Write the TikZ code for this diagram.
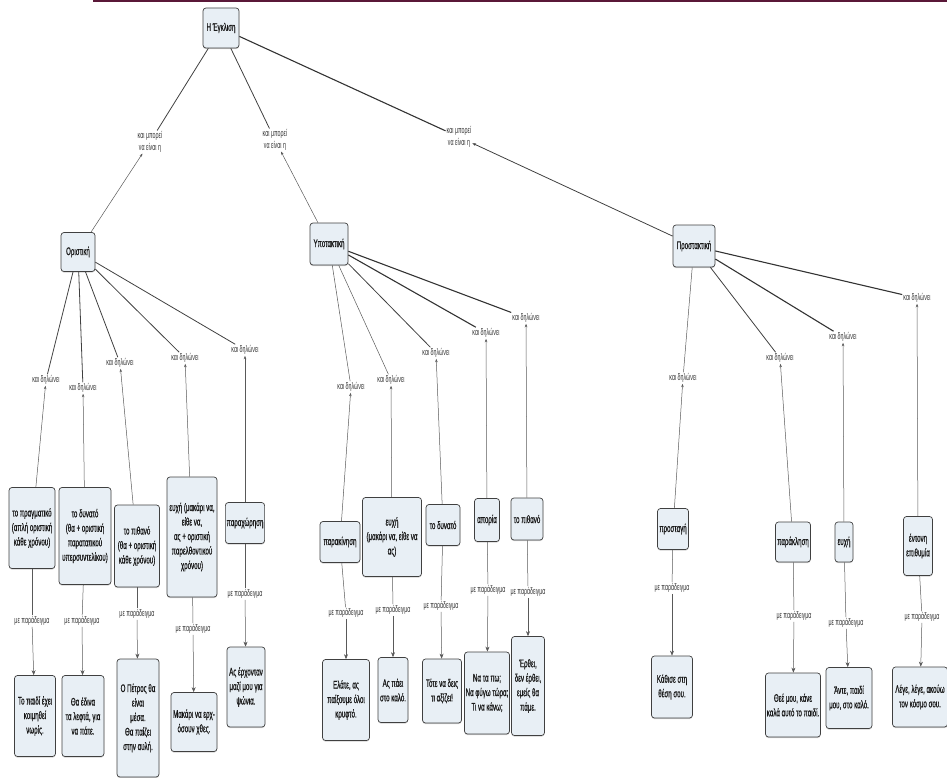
\documentclass[tikz,border=0pt]{standalone}
\usepackage{fontspec}
\usetikzlibrary{arrows.meta,shadows}
\newfontfamily\narrowfont{Liberation Sans}[FakeStretch=0.56]
\newfontfamily\narrowbold{Liberation Sans}[FakeStretch=0.56,FakeBold=0.6]
\definecolor{boxfill}{HTML}{E8EFF5}
\definecolor{barcol}{HTML}{5A1838}
\newcommand{\boxfont}{\narrowbold\fontsize{11}{14.5}\selectfont}
\newcommand{\labfont}{\narrowfont\fontsize{9.5}{11.5}\selectfont}
\tikzset{
  cbox/.style={draw=black!75, fill=boxfill, rounded corners=3pt, line width=0.7pt,
    align=center, font=\boxfont, text=black!90, inner xsep=1.2pt, inner ysep=2pt,
    drop shadow={opacity=0.35, shadow xshift=0pt, shadow yshift=-1.2pt}},
  lab/.style={font=\labfont, text=black!80, inner sep=1pt, align=center},
  heavy/.style={draw=black!80, line width=1.1pt},
  mid/.style={draw=black!75, line width=0.8pt},
  thinl/.style={draw=black!65, line width=0.5pt},
  uptip/.style={-{Stealth[length=3.5pt,width=2.6pt]}},
  downtip/.style={-{Stealth[length=5pt,width=4pt]}},
}
\begin{document}
\begin{tikzpicture}[x=1pt,y=-1pt]
\useasboundingbox (0,0) rectangle (947,778);
\fill[barcol] (93,0) rectangle (947,2.5);

% top
\node[cbox, minimum width=36, minimum height=40] (top) at (221,28) {Η Έγκλιση};

% level 1 labels
\node[lab] (l1) at (150,142) {και μπορεί\\να είναι η};
\node[lab] (l2) at (275,140) {και μπορεί\\να είναι η};
\node[lab] (l3) at (459,137) {και μπορεί\\να είναι η};

% moods
\node[cbox, minimum width=34, minimum height=39] (or) at (78,252) {Οριστική};
\node[cbox, minimum width=38, minimum height=42] (yp) at (329,244) {Υποτακτική};
\node[cbox, minimum width=42, minimum height=42] (pr) at (694,246) {Προστακτική};

\draw[mid] (top) -- (l1);
\draw[mid] (top) -- (l2);
\draw[heavy] (top) -- (l3);
\draw[thinl,uptip] (or) -- (l1);
\draw[thinl,uptip] (yp) -- (l2);
\draw[mid,uptip] (pr) -- (l3);

% ---------- Οριστική ----------
\node[lab] (ol1) at (46,380) {και δηλώνει};
\node[lab] (ol2) at (83,388) {και δηλώνει};
\node[lab] (ol3) at (120,363) {και δηλώνει};
\node[lab] (ol4) at (185,358) {και δηλώνει};
\node[lab] (ol5) at (245,350) {και δηλώνει};

\node[cbox, minimum width=46, minimum height=81] (ob1) at (32,528) {το πραγματικό\\(απλή οριστική\\κάθε χρόνου)};
\node[cbox, minimum width=52, minimum height=97] (ob2) at (85,536) {το δυνατό\\(θα + οριστική\\παρατατικού\\υπερσυντελίκου)};
\node[cbox, minimum width=45, minimum height=82] (ob3) at (137,546) {το πιθανό\\(θα + οριστική\\κάθε χρόνου)};
\node[cbox, minimum width=50, minimum height=120] (ob4) at (192,537) {ευχή (μακάρι να,\\είθε να,\\ας + οριστική\\παρελθοντικού\\χρόνου)};
\node[cbox, minimum width=35, minimum height=41] (ob5) at (245,523) {παραχώρηση};

\foreach \i in {1,...,5}{
  \draw[mid] (or) -- (ol\i);
  \draw[thinl,uptip] (ob\i) -- (ol\i);
}

\node[lab] (om1) at (32,621) {με παράδειγμα};
\node[lab] (om2) at (82,621) {με παράδειγμα};
\node[lab] (om3) at (137,614) {με παράδειγμα};
\node[lab] (om4) at (193,629) {με παράδειγμα};
\node[lab] (om5) at (245,594) {με παράδειγμα};

\node[cbox, minimum width=41, minimum height=81] (oe1) at (35,716) {Το παιδί έχει\\κοιμηθεί\\νωρίς.};
\node[cbox, minimum width=42, minimum height=81] (oe2) at (83,716) {Θα έδινα\\τα λεφτά, για\\να πάτε.};
\node[cbox, minimum width=42, minimum height=118] (oe3) at (138,718) {Ο Πέτρος θα\\είναι\\μέσα.\\Θα παίζει\\στην αυλή.};
\node[cbox, minimum width=46, minimum height=59] (oe4) at (194,722) {Μακάρι να ερχ-\\όσουν χθες.};
\node[cbox, minimum width=38, minimum height=80] (oe5) at (246,687) {Ας έρχονταν\\μαζί μου για\\ψώνια.};

\foreach \i in {1,...,5}{
  \draw[thinl] (ob\i) -- (om\i);
  \draw[thinl,downtip] (om\i) -- (oe\i);
}

% ---------- Υποτακτική ----------
\node[lab] (ul1) at (351,387) {και δηλώνει};
\node[lab] (ul2) at (391,380) {και δηλώνει};
\node[lab] (ul3) at (436,353) {και δηλώνει};
\node[lab] (ul4) at (486,333) {και δηλώνει};
\node[lab] (ul5) at (526,318) {και δηλώνει};

\node[cbox, minimum width=40, minimum height=41] (ub1) at (340,542) {παρακίνηση};
\node[cbox, minimum width=59, minimum height=79] (ub2) at (392,537) {ευχή\\(μακάρι να, είθε να\\ας)};
\node[cbox, minimum width=34, minimum height=41] (ub3) at (443,525) {το δυνατό};
\node[cbox, minimum width=25, minimum height=43] (ub4) at (487,520) {απορία};
\node[cbox, minimum width=32, minimum height=42] (ub5) at (527,519) {το πιθανό};

\draw[thinl] (yp) -- (ul1);
\draw[thinl] (yp) -- (ul2);
\draw[mid] (yp) -- (ul3);
\draw[heavy] (yp) -- (ul4);
\draw[heavy] (yp) -- (ul5);
\foreach \i in {1,...,5}{
  \draw[thinl,uptip] (ub\i) -- (ul\i);
}

\node[lab] (um1) at (346,613) {με παράδειγμα};
\node[lab] (um2) at (393,610) {με παράδειγμα};
\node[lab] (um3) at (441,606) {με παράδειγμα};
\node[lab] (um4) at (488,590) {με παράδειγμα};
\node[lab] (um5) at (528,592) {με παράδειγμα};

\node[cbox, minimum width=47, minimum height=81] (ue1) at (346,700) {Ελάτε, ας\\παίξουμε όλοι\\κρυφτό.};
\node[cbox, minimum width=30, minimum height=65] (ue2) at (393,690) {Ας πάει\\στο καλό.};
\node[cbox, minimum width=39, minimum height=64] (ue3) at (442,691) {Τότε να δεις\\τι αξίζει!};
\node[cbox, minimum width=44, minimum height=82] (ue4) at (487,693) {Να τα πω;\\Να φύγω τώρα;\\Τι να κάνω;};
\node[cbox, minimum width=33, minimum height=99] (ue5) at (528,686) {Έρθει,\\δεν έρθει,\\εμείς θα\\πάμε.};

\foreach \i in {1,...,5}{
  \draw[thinl] (ub\i) -- (um\i);
  \draw[thinl,downtip] (um\i) -- (ue\i);
}

% ---------- Προστακτική ----------
\node[lab] (pl1) at (683,378) {και δηλώνει};
\node[lab] (pl2) at (780,358) {και δηλώνει};
\node[lab] (pl3) at (843,337) {και δηλώνει};
\node[lab] (pl4) at (917,298) {και δηλώνει};

\node[cbox, minimum width=31, minimum height=41] (pb1) at (673,529) {προσταγή};
\node[cbox, minimum width=35, minimum height=40] (pb2) at (793,542) {παράκληση};
\node[cbox, minimum width=18, minimum height=40] (pb3) at (844,542) {ευχή};
\node[cbox, minimum width=29, minimum height=59] (pb4) at (918,546) {έντονη\\επιθυμία};

\draw[thinl] (pr) -- (pl1);
\draw[mid] (pr) -- (pl2);
\draw[heavy] (pr) -- (pl3);
\draw[heavy] (pr) -- (pl4);
\foreach \i in {1,...,4}{
  \draw[thinl,uptip] (pb\i) -- (pl\i);
}

\node[lab] (pm1) at (672,588) {με παράδειγμα};
\node[lab] (pm2) at (794,616) {με παράδειγμα};
\node[lab] (pm3) at (846,623) {με παράδειγμα};
\node[lab] (pm4) at (922,617) {με παράδειγμα};

\node[cbox, minimum width=41, minimum height=62] (pe1) at (672,687) {Κάθισε στη\\θέση σου.};
\node[cbox, minimum width=55, minimum height=64] (pe2) at (793,705) {Θεέ μου, κάνε\\καλά αυτό το παιδί.};
\node[cbox, minimum width=46, minimum height=61] (pe3) at (849,698) {Άντε, παιδί\\μου, στο καλό.};
\node[cbox, minimum width=55, minimum height=60] (pe4) at (920,697) {Λέγε, λέγε, ακούω\\τον κόσμο σου.};

\foreach \i in {1,...,4}{
  \draw[thinl] (pb\i) -- (pm\i);
  \draw[thinl,downtip] (pm\i) -- (pe\i);
}
\end{tikzpicture}
\end{document}
